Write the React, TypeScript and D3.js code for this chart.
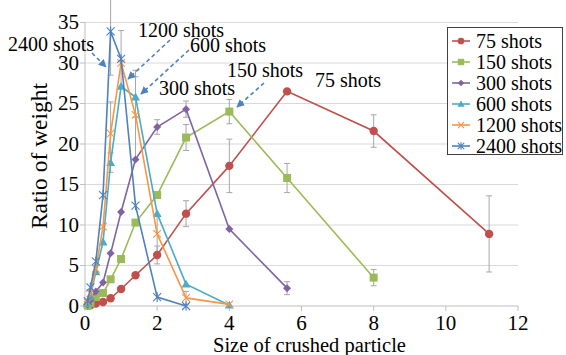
import React from "react";
import * as d3 from "d3";

const sizes = [0.075, 0.15, 0.3, 0.5, 0.71, 1, 1.4, 2, 2.8, 4, 5.6, 8, 11.2];

const seriesNames = ["75 shots", "150 shots", "300 shots", "600 shots", "1200 shots", "2400 shots"];
const seriesColors = ["#C0504D", "#9BBB59", "#8064A2", "#4BACC6", "#F79646", "#4F81BD"];
const seriesMarkers = ["circle", "square", "diamond", "triangle", "x", "star"];

const shots75 = [0.05, 0.1, 0.3, 0.5, 0.95, 2.1, 3.8, 6.3, 11.4, 17.3, 26.5, 21.6, 8.9];
const shots150 = [0.1, 0.4, 1.1, 1.6, 3.3, 5.8, 10.3, 13.7, 20.8, 24.0, 15.8, 3.5];
const shots300 = [0.2, 0.7, 1.8, 2.9, 6.5, 11.6, 18.1, 22.1, 24.3, 9.5, 2.2];
const shots600 = [0.3, 1.2, 4.2, 7.9, 17.7, 27.1, 25.8, 11.4, 2.7, 0.1];
const shots1200 = [0.4, 1.6, 4.6, 9.8, 21.3, 30.0, 23.6, 8.9, 1.0, 0.2];
const shots2400 = [0.6, 2.3, 5.5, 13.7, 33.9, 30.5, 12.4, 1.1, 0.0];

const err75 = [0, 0, 0, 0, 0, 0, 0, 1.1, 1.6, 3.3, 0, 2.0, 4.7];
const err150 = [0, 0, 0, 0, 0, 0, 0, 0, 1.6, 1.5, 1.8, 1.0];
const err300 = [0, 0, 0, 0, 0, 0, 0, 0.9, 1.0, 0, 0.8];
const err600 = [0, 0, 0, 0, 1.2, 0, 2.5, 0, 0, 0];
const err1200 = [0, 0, 0, 0, 3.9, 0, 5.5, 2.4, 0.8, 0];
const err2400 = [0, 0, 0, 0, 5.4, 3.5, 0, 0, 0];

const seriesValues = [shots75, shots150, shots300, shots600, shots1200, shots2400];
const seriesErrors = [err75, err150, err300, err600, err1200, err2400];

const xTicks = [0, 2, 4, 6, 8, 10, 12];
const yTicks = [0, 5, 10, 15, 20, 25, 30, 35];

const annotations = [
  { text: "2400 shots", tx: 8, ty: 51, from: [92, 53], to: [106, 67] },
  { text: "1200 shots", tx: 138, ty: 37, from: [170, 40], to: [128, 79] },
  { text: "600 shots", tx: 190, ty: 52, from: [189, 50], to: [141, 94] },
  { text: "300 shots", tx: 159, ty: 95, from: null, to: null },
  { text: "150 shots", tx: 227, ty: 77, from: [264, 83], to: [237, 107] },
  { text: "75 shots", tx: 315, ty: 87, from: null, to: null },
];

const FONT = "Liberation Serif, Tinos, Times New Roman, DejaVu Serif, serif";

function Marker({ type, x, y, color, s = 1 }: { type: string; x: number; y: number; color: string; s?: number }) {
  if (type === "circle") return <circle cx={x} cy={y} r={4.2 * s} fill={color} />;
  if (type === "square") {
    const h = 4 * s;
    return <rect x={x - h} y={y - h} width={2 * h} height={2 * h} fill={color} />;
  }
  if (type === "diamond") {
    const h = 4 * s;
    return <path d={`M${x},${y - h}L${x + h},${y}L${x},${y + h}L${x - h},${y}Z`} fill={color} />;
  }
  if (type === "triangle") {
    const h = 4.5 * s;
    return <path d={`M${x},${y - h}L${x + h},${y + h * 0.75}L${x - h},${y + h * 0.75}Z`} fill={color} />;
  }
  if (type === "x") {
    const h = 3.8 * s;
    return (
      <path d={`M${x - h},${y - h}L${x + h},${y + h}M${x - h},${y + h}L${x + h},${y - h}`} stroke={color} strokeWidth={1.1} fill="none" />
    );
  }
  const h = 4 * s;
  return (
    <path
      d={`M${x - h},${y - h}L${x + h},${y + h}M${x - h},${y + h}L${x + h},${y - h}M${x},${y - h * 1.2}L${x},${y + h * 1.2}`}
      stroke={color}
      strokeWidth={1.1}
      fill="none"
    />
  );
}

export default function App() {
  const W = 566, H = 355;
  const x = d3.scaleLinear().domain([0, 12]).range([85, 518]);
  const y = d3.scaleLinear().domain([0, 35]).range([306, 22.5]);
  const line = d3
    .line<[number, number]>()
    .x((d) => x(d[0]))
    .y((d) => y(d[1]));
  const tstyle = { fontFamily: FONT };

  return (
    <svg width={W} height={H} style={{ position: "absolute", left: 0, top: 0, background: "#fff", fontFamily: FONT }}>
      <defs>
        <marker id="ah" viewBox="0 0 10 10" refX="9" refY="5" markerWidth="5" markerHeight="5" orient="auto">
          <path d="M0,0L10,5L0,10Z" fill="#4F81BD" />
        </marker>
      </defs>
      <rect x={0} y={0} width={W} height={H} fill="#fff" />
      {yTicks.filter((t) => t > 0).map((t) => (
        <line key={t} x1={x(0)} x2={x(12)} y1={y(t)} y2={y(t)} stroke="#d9d9d9" strokeWidth={1} />
      ))}
      <line x1={x(0)} x2={x(12)} y1={y(0)} y2={y(0)} stroke="#bfbfbf" />
      <line x1={x(0)} x2={x(0)} y1={y(0)} y2={y(35)} stroke="#bfbfbf" />
      {xTicks.map((t) => (
        <g key={t}>
          <line x1={x(t)} x2={x(t)} y1={y(0)} y2={y(0) + 5} stroke="#bfbfbf" />
          <text x={x(t)} y={330} textAnchor="middle" fontSize={21} fill="#000" style={tstyle}>{t}</text>
        </g>
      ))}
      {yTicks.map((t) => (
        <g key={t}>
          <line x1={x(0) - 5} x2={x(0)} y1={y(t)} y2={y(t)} stroke="#bfbfbf" />
          <text x={79} y={y(t) + 6.5} textAnchor="end" fontSize={21} fill="#000" style={tstyle}>{t}</text>
        </g>
      ))}
      <text x={213} y={352} fontSize={20.5} fill="#000" style={tstyle}>Size of crushed particle</text>
      <text transform={`translate(47,156) rotate(-90)`} textAnchor="middle" fontSize={23.5} fill="#000" style={tstyle}>Ratio of weight</text>

      {seriesValues.map((vals, si) =>
        vals.map((v, i) => {
          const e = seriesErrors[si][i];
          if (!e) return null;
          const px = x(sizes[i]);
          return (
            <g key={`e${si}-${i}`} stroke="#a6a6a6" strokeWidth={1}>
              <line x1={px} x2={px} y1={y(v - e)} y2={y(v + e)} />
              <line x1={px - 3} x2={px + 3} y1={y(v - e)} y2={y(v - e)} />
              <line x1={px - 3} x2={px + 3} y1={y(v + e)} y2={y(v + e)} />
            </g>
          );
        })
      )}

      {seriesValues.map((vals, si) => {
        const pts = vals.map((v, i) => [sizes[i], v] as [number, number]);
        return (
          <g key={si}>
            <path d={line(pts) || ""} fill="none" stroke={seriesColors[si]} strokeWidth={1.6} />
            {pts.map((p, i) => (
              <Marker key={i} type={seriesMarkers[si]} x={x(p[0])} y={y(p[1])} color={seriesColors[si]} />
            ))}
          </g>
        );
      })}

      {annotations.map((a, i) => (
        <g key={i}>
          <text x={a.tx} y={a.ty} fontSize={20} fill="#000" style={tstyle}>{a.text}</text>
          {a.from && a.to && (
            <line
              x1={a.from[0]}
              y1={a.from[1]}
              x2={a.to[0]}
              y2={a.to[1]}
              stroke="#4F81BD"
              strokeWidth={1.6}
              strokeDasharray="4 3"
              markerEnd="url(#ah)"
            />
          )}
        </g>
      ))}

      <rect x={447.5} y={27.5} width={115} height={127} fill="#fff" stroke="#404040" strokeWidth={1} />
      {seriesNames.map((n, i) => {
        const cy = 41 + i * 21;
        return (
          <g key={n}>
            <line x1={452} x2={470} y1={cy} y2={cy} stroke={seriesColors[i]} strokeWidth={1.6} />
            <Marker type={seriesMarkers[i]} x={461} y={cy} color={seriesColors[i]} s={0.8} />
            <text x={476} y={cy + 6.5} fontSize={20} fill="#000" style={tstyle}>{n}</text>
          </g>
        );
      })}
    </svg>
  );
}
